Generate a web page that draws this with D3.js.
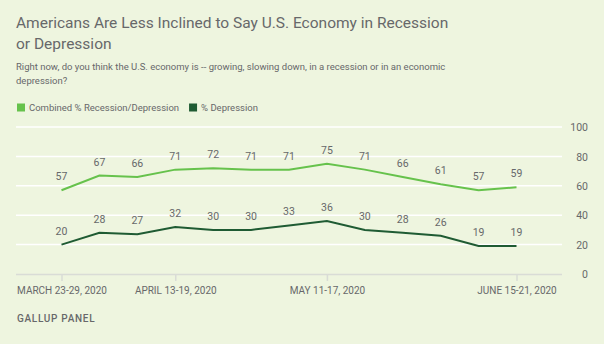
<!DOCTYPE html>
<html><head><meta charset="utf-8">
<script src="https://cdn.jsdelivr.net/npm/d3@7"></script>
<style>
html,body{margin:0;padding:0;background:#eef5df;}
svg{display:block;}
text{font-family:Roboto, "Noto Sans", sans-serif;}
</style></head>
<body><svg id="c" width="604" height="344"></svg>
<script>
const periods = ["MARCH 23-29, 2020","MARCH 30-APRIL 5, 2020","APRIL 6-12, 2020","APRIL 13-19, 2020","APRIL 20-26, 2020","APRIL 27-MAY 3, 2020","MAY 4-10, 2020","MAY 11-17, 2020","MAY 18-24, 2020","MAY 25-31, 2020","JUNE 1-7, 2020","JUNE 8-14, 2020","JUNE 15-21, 2020"];
const combined = [57,67,66,71,72,71,71,75,71,66,61,57,59];
const depression = [20,28,27,32,30,30,33,36,30,28,26,19,19];
const yTicks = [0,20,40,60,80,100];
const xTickLabels = ["MARCH 23-29, 2020","APRIL 13-19, 2020","MAY 11-17, 2020","JUNE 15-21, 2020"];
const seriesNames = ["Combined % Recession/Depression","% Depression"];
const colors = ["#66c24c","#1f5b33"];
const textColor = "#67686a";

const svg = d3.select("#c");
svg.append("rect").attr("width",604).attr("height",344).attr("fill","#eef5df");

// Title
const title = svg.append("text").attr("x",16).attr("fill",textColor).attr("font-size",15.5);
title.append("tspan").attr("x",16).attr("y",28).text("Americans Are Less Inclined to Say U.S. Economy in Recession");
title.append("tspan").attr("x",16).attr("y",48.5).text("or Depression");

const sub = svg.append("text").attr("fill",textColor).attr("font-size",9.5);
sub.append("tspan").attr("x",16).attr("y",70).text("Right now, do you think the U.S. economy is -- growing, slowing down, in a recession or in an economic");
sub.append("tspan").attr("x",16).attr("y",84).text("depression?");

// Legend
const leg = svg.append("g");
let lx = 17;
seriesNames.forEach((n,i)=>{
  leg.append("rect").attr("x",lx).attr("y",103.5).attr("width",8).attr("height",8).attr("fill",colors[i]);
  const t = leg.append("text").attr("x",lx+12).attr("y",111).attr("font-size",9.5).attr("fill",textColor).text(n);
  lx += 12 + t.node().getComputedTextLength() + 10;
});

const x = d3.scalePoint().domain(periods).range([16,562]).padding(1.2);
const y = d3.scaleLinear().domain([0,100]).range([274,127]);

// gridlines
svg.append("g").selectAll("line").data(yTicks.filter(d=>d>0)).join("line")
  .attr("x1",16).attr("x2",562).attr("y1",d=>y(d)).attr("y2",d=>y(d))
  .attr("stroke","#ffffff").attr("stroke-width",1.5);

// y axis on right
const yAxis = d3.axisRight(y).tickValues(yTicks).tickSize(0).tickPadding(0);
const yg = svg.append("g").attr("transform","translate(588,0)").call(yAxis);
yg.select(".domain").remove();
yg.selectAll("text").attr("text-anchor","end").attr("font-size",10.5).attr("fill",textColor).attr("dy","0.35em");

// x axis
const xAxis = d3.axisBottom(x).tickValues(xTickLabels).tickSize(7).tickPadding(6);
const xg = svg.append("g").attr("transform",`translate(0,${y(0)})`).call(xAxis);
xg.select(".domain").attr("d","M16,0.5H562").attr("stroke","#d9dcd6").attr("stroke-width",1.5);
xg.selectAll(".tick line").attr("stroke","#d9dcd6").attr("stroke-width",1.5);
xg.selectAll("text").attr("font-size",10).attr("fill",textColor);

// lines
const line = d3.line().x((d,i)=>x(periods[i])).y(d=>y(d));
[combined,depression].forEach((s,k)=>{
  svg.append("path").datum(s).attr("d",line).attr("fill","none")
    .attr("stroke",colors[k]).attr("stroke-width",2);
  svg.append("g").selectAll("text").data(s).join("text")
    .attr("x",(d,i)=>x(periods[i])).attr("y",d=>y(d)-10)
    .attr("text-anchor","middle").attr("font-size",10.5).attr("fill",textColor)
    .text(d=>d);
});

svg.append("text").attr("x",17).attr("y",322).attr("font-size",10).attr("font-weight",500)
  .attr("letter-spacing",0.7).attr("fill",textColor).text("GALLUP PANEL");
</script></body></html>
